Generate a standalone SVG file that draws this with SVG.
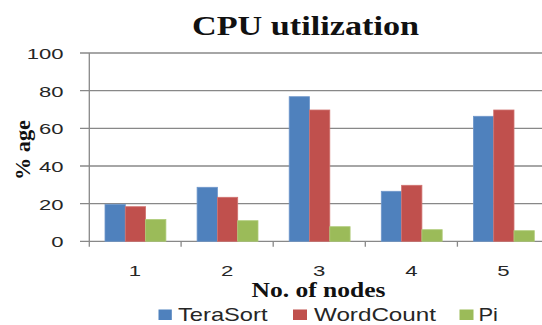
<svg xmlns="http://www.w3.org/2000/svg" width="542" height="325" viewBox="0 0 542 325">
  <style>
    .grid { stroke: #888888; stroke-width: 1.3; fill: none; }
    .num { font-family: "Liberation Sans", Arial, sans-serif; font-size: 15px; fill: #262626; }
    .legend { font-family: "Liberation Sans", Arial, sans-serif; font-size: 19px; fill: #262626; }
    .heading { font-family: "Liberation Serif", "Times New Roman", serif; font-weight: bold; fill: #111111; }
    .tera { fill: #4F81BD; stroke: #6F97CB; stroke-width: 0.8; }
    .word { fill: #C0504D; stroke: #D07370; stroke-width: 0.8; }
    .pi { fill: #9BBB59; stroke: #AFCB78; stroke-width: 0.8; }
  </style>
  <rect width="542" height="325" fill="#ffffff"/>

  <!-- title -->
  <text class="heading" x="192" y="35" font-size="28" textLength="227" lengthAdjust="spacingAndGlyphs">CPU utilization</text>

  <!-- gridlines and axes -->
  <g id="axes">
    <line class="grid" x1="80" y1="53" x2="542" y2="53"/>
    <line class="grid" x1="80" y1="90.7" x2="542" y2="90.7"/>
    <line class="grid" x1="80" y1="128.4" x2="542" y2="128.4"/>
    <line class="grid" x1="80" y1="166" x2="542" y2="166"/>
    <line class="grid" x1="80" y1="203.7" x2="542" y2="203.7"/>
    <line class="grid" x1="80" y1="241.3" x2="542" y2="241.3"/>
    <line class="grid" x1="89.3" y1="53" x2="89.3" y2="246.7"/>
    <line class="grid" x1="181.1" y1="241.3" x2="181.1" y2="246.7"/>
    <line class="grid" x1="273.2" y1="241.3" x2="273.2" y2="246.7"/>
    <line class="grid" x1="365.3" y1="241.3" x2="365.3" y2="246.7"/>
    <line class="grid" x1="457.4" y1="241.3" x2="457.4" y2="246.7"/>
  </g>

  <!-- value axis labels -->
  <g id="y-labels" text-anchor="end">
    <text class="num" x="63.5" y="59" textLength="36.8" lengthAdjust="spacingAndGlyphs">100</text>
    <text class="num" x="63.5" y="96.7" textLength="24.5" lengthAdjust="spacingAndGlyphs">80</text>
    <text class="num" x="63.5" y="134.4" textLength="24.5" lengthAdjust="spacingAndGlyphs">60</text>
    <text class="num" x="63.5" y="172" textLength="24.5" lengthAdjust="spacingAndGlyphs">40</text>
    <text class="num" x="63.5" y="209.7" textLength="24.5" lengthAdjust="spacingAndGlyphs">20</text>
    <text class="num" x="63.5" y="247.3" textLength="12.3" lengthAdjust="spacingAndGlyphs">0</text>
  </g>
  <text class="heading" transform="translate(30,150) rotate(-90)" text-anchor="middle" font-size="21" textLength="60" lengthAdjust="spacingAndGlyphs">% age</text>

  <!-- category labels -->
  <g id="x-labels" text-anchor="middle">
    <text class="num" x="135" y="275.7" textLength="12.3" lengthAdjust="spacingAndGlyphs">1</text>
    <text class="num" x="227.1" y="275.7" textLength="12.3" lengthAdjust="spacingAndGlyphs">2</text>
    <text class="num" x="319.2" y="275.7" textLength="12.3" lengthAdjust="spacingAndGlyphs">3</text>
    <text class="num" x="411.3" y="275.7" textLength="12.3" lengthAdjust="spacingAndGlyphs">4</text>
    <text class="num" x="503.4" y="275.7" textLength="12.3" lengthAdjust="spacingAndGlyphs">5</text>
  </g>
  <text class="heading" x="251.5" y="296.7" font-size="20" textLength="134" lengthAdjust="spacingAndGlyphs">No. of nodes</text>

  <!-- bars: node count 1..5 -->
  <g id="group-1">
    <rect class="tera" x="105" y="204.3" width="20.3" height="37"/>
    <rect class="word" x="125.3" y="206.7" width="20.3" height="34.6"/>
    <rect class="pi" x="145.6" y="219.5" width="20.3" height="21.8"/>
  </g>
  <g id="group-2">
    <rect class="tera" x="197.1" y="187.3" width="20.3" height="54"/>
    <rect class="word" x="217.4" y="197.3" width="20.3" height="44"/>
    <rect class="pi" x="237.7" y="220.7" width="20.3" height="20.6"/>
  </g>
  <g id="group-3">
    <rect class="tera" x="289.2" y="96.7" width="20.3" height="144.6"/>
    <rect class="word" x="309.5" y="110" width="20.3" height="131.3"/>
    <rect class="pi" x="329.8" y="226.7" width="20.3" height="14.6"/>
  </g>
  <g id="group-4">
    <rect class="tera" x="381.3" y="191.3" width="20.3" height="50"/>
    <rect class="word" x="401.6" y="185.3" width="20.3" height="56"/>
    <rect class="pi" x="421.9" y="229.7" width="20.3" height="11.6"/>
  </g>
  <g id="group-5">
    <rect class="tera" x="473.4" y="116.3" width="20.3" height="125"/>
    <rect class="word" x="493.7" y="110" width="20.3" height="131.3"/>
    <rect class="pi" x="514" y="230.7" width="20.3" height="10.6"/>
  </g>

  <!-- legend -->
  <g id="legend">
    <rect x="158.5" y="309.5" width="13.3" height="10.5" fill="#4F81BD"/>
    <text class="legend" x="178" y="320.5" textLength="89.5" lengthAdjust="spacingAndGlyphs">TeraSort</text>
    <rect x="293" y="309.5" width="14" height="10.5" fill="#C0504D"/>
    <text class="legend" x="314" y="320.5" textLength="122" lengthAdjust="spacingAndGlyphs">WordCount</text>
    <rect x="459.5" y="309.5" width="14" height="10.5" fill="#9BBB59"/>
    <text class="legend" x="478.5" y="320.5" textLength="19.5" lengthAdjust="spacingAndGlyphs">Pi</text>
  </g>
</svg>
